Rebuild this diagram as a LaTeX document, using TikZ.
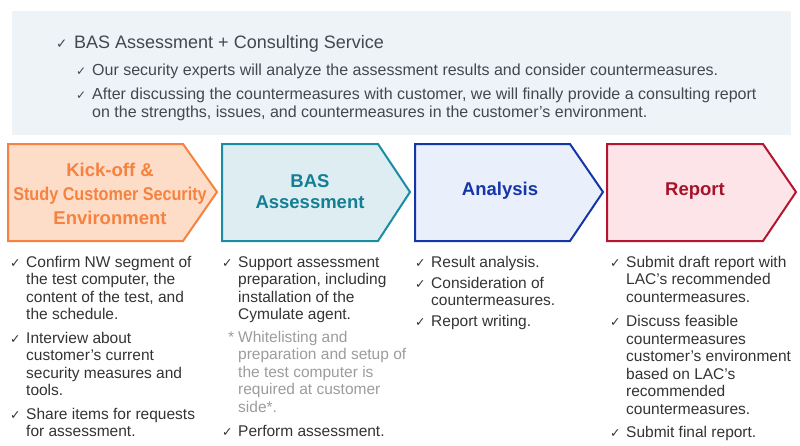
\documentclass[tikz,border=0pt]{standalone}
\usepackage{fontspec}
\usepackage{graphicx}
\setmainfont{Liberation Sans}
\newfontfamily\symfont{DejaVu Sans}
\usetikzlibrary{positioning}

\definecolor{bannerbg}{HTML}{EEF3F8}
\definecolor{bannertext}{HTML}{45464F}
\definecolor{bodytext}{HTML}{333333}
\definecolor{notetext}{HTML}{9C9C9C}
\definecolor{kickdraw}{HTML}{F5823F}
\definecolor{kickfill}{HTML}{FDDDC8}
\definecolor{basdraw}{HTML}{1A8CA3}
\definecolor{basfill}{HTML}{DDEDF2}
\definecolor{basttext}{HTML}{147E95}
\definecolor{anadraw}{HTML}{1536A6}
\definecolor{anafill}{HTML}{EAEFFC}
\definecolor{repdraw}{HTML}{B3162E}
\definecolor{repfill}{HTML}{FDE4E8}
\definecolor{reptext}{HTML}{A6122A}

\newcommand{\ck}{\makebox[16pt][l]{\symfont\fontsize{12.5}{12}\selectfont ✓}}
\newcommand{\ind}{\hspace*{16pt}}
% fixes the height of a first line, so that north = baseline - 12pt
\newcommand{\topline}{\rule{0pt}{12pt}}

\begin{document}
\begin{tikzpicture}[x=1pt, y=-1pt,
  stage/.style={line width=2pt, line join=miter},
  title/.style={font=\fontsize{18.5}{23}\selectfont\bfseries, align=center, inner sep=0pt},
  items/.style={anchor=north west, align=left, inner sep=0pt, text=bodytext,
    font=\fontsize{15.5}{17.5}\selectfont}]
\useasboundingbox (0,0) rectangle (800,445);

% summary banner
\fill[bannerbg] (12,11) rectangle (791,135);
\node[anchor=base west, inner sep=0pt, text=bannertext, font=\fontsize{18}{20}\selectfont]
  (service) at (56,48) {\makebox[18pt][l]{\symfont\fontsize{13.5}{12}\selectfont ✓}BAS Assessment + Consulting Service};
\node[anchor=north west, inner sep=0pt, align=left, text=bannertext, font=\fontsize{16}{18.5}\selectfont]
  (details) at (76,63) {\topline\makebox[16pt][l]{\symfont\fontsize{12}{12}\selectfont ✓}Our security experts will analyze the assessment results and consider countermeasures.\\[5.5pt]
  \makebox[16pt][l]{\symfont\fontsize{12}{12}\selectfont ✓}After discussing the countermeasures with customer, we will finally provide a consulting report\\
  \hspace*{16pt}on the strengths, issues, and countermeasures in the customer's environment.};

% stages
\draw[stage, draw=kickdraw, fill=kickfill] (8,144) -- (183,144) -- (217,192) -- (183,241) -- (8,241) -- cycle;
\draw[stage, draw=basdraw, fill=basfill] (222,144) -- (378,144) -- (410,192) -- (378,241) -- (222,241) -- cycle;
\draw[stage, draw=anadraw, fill=anafill] (415,144) -- (570,144) -- (603,192) -- (570,241) -- (415,241) -- cycle;
\draw[stage, draw=repdraw, fill=repfill] (607,144) -- (763,144) -- (796,192) -- (763,241) -- (607,241) -- cycle;

\node[title, text=kickdraw, font=\fontsize{18.5}{24}\selectfont\bfseries] (kickoff) at (110,194)
  {Kick-off \&\\\scalebox{0.875}[1]{Study Customer Security}\\Environment};
\node[title, text=basttext, font=\fontsize{18.5}{21}\selectfont\bfseries] (bas) at (310,192) {BAS\\Assessment};
\node[title, text=anadraw] (analysis) at (500,191) {Analysis};
\node[title, text=reptext] (report) at (695,191) {Report};

% tasks of each stage
\node[items] (kicktasks) at (10,255) {\topline\ck Confirm NW segment of\\
  \ind the test computer, the\\
  \ind content of the test, and\\
  \ind the schedule.\\[6pt]
  \ck Interview about\\
  \ind customer's current\\
  \ind security measures and\\
  \ind tools.\\[6pt]
  \ck Share items for requests\\
  \ind for assessment.};
\node[items] (bastasks) at (222,255) {\topline\ck Support assessment\\
  \ind preparation, including\\
  \ind installation of the\\
  \ind Cymulate agent.\\[5pt]
  \makebox[16pt][r]{\color{notetext}*\hspace{4pt}}{\color{notetext}Whitelisting and}\\
  \ind{\color{notetext}preparation and setup of}\\
  \ind{\color{notetext}the test computer is}\\
  \ind{\color{notetext}required at customer}\\
  \ind{\color{notetext}side*.}\\[7pt]
  \ck Perform assessment.};
\node[items] (anatasks) at (415,255) {\topline\ck Result analysis.\\[3.5pt]
  \ck Consideration of\\
  \ind countermeasures.\\[3.5pt]
  \ck Report writing.};
\node[items] (reptasks) at (610,255) {\topline\ck Submit draft report with\\
  \ind LAC's recommended\\
  \ind countermeasures.\\[7pt]
  \ck Discuss feasible\\
  \ind countermeasures\\
  \ind customer's environment\\
  \ind based on LAC's\\
  \ind recommended\\
  \ind countermeasures.\\[6pt]
  \ck Submit final report.};
\end{tikzpicture}
\end{document}
